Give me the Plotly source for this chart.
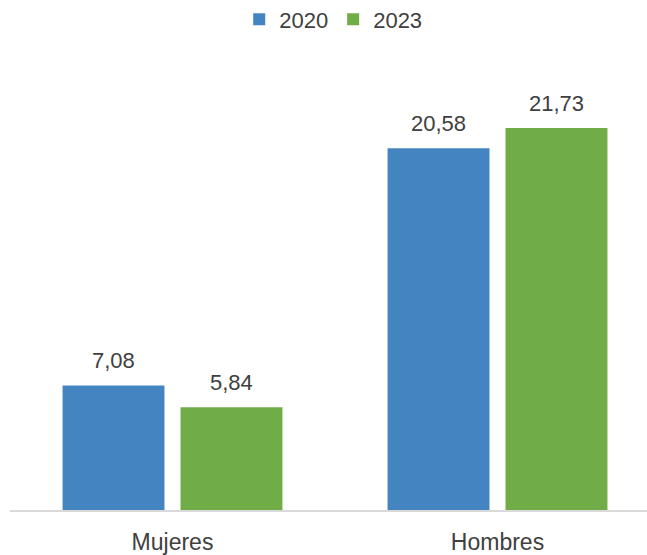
import plotly.graph_objects as go

categories = ["Mujeres", "Hombres"]
series_names = ["2020", "2023"]
values_2020 = [7.08, 20.58]
values_2023 = [5.84, 21.73]
colors = ["#4485C1", "#70AD47"]

FONT = "Liberation Sans, Arial"
TEXT_COLOR = "#404040"
BARGAP = 0.274
GROUPGAP = 0.136

fig = go.Figure()
for name, vals, col in zip(series_names, [values_2020, values_2023], colors):
    fig.add_trace(go.Bar(
        x=categories, y=vals, name=name,
        marker=dict(color=col, line=dict(width=0)),
        cliponaxis=False,
    ))

# value labels above each bar, placed from the same values
x_range = [-0.5, 1.46]
plot_w = 647 - 10
px_per_cat = plot_w / (x_range[1] - x_range[0])
slot = px_per_cat * (1 - BARGAP) / 2
annotations = []
for i, vals in enumerate([values_2020, values_2023]):
    offset = (i - 0.5) * slot
    for cat, v in zip(categories, vals):
        annotations.append(dict(
            x=cat, y=v, xref="x", yref="y",
            text=f"{v:.2f}".replace(".", ","), showarrow=False,
            xshift=offset, yshift=25, yanchor="middle",
            font=dict(family=FONT, size=22, color=TEXT_COLOR),
        ))

fig.update_layout(
    width=647, height=555,
    margin=dict(l=10, r=0, t=60, b=43),
    paper_bgcolor="white", plot_bgcolor="white",
    barmode="group", bargap=BARGAP, bargroupgap=GROUPGAP,
    font=dict(family=FONT, color=TEXT_COLOR),
    legend=dict(orientation="h", xref="container", yref="container",
                x=0.515, y=0.965, xanchor="center", yanchor="middle",
                font=dict(size=22, color=TEXT_COLOR), itemwidth=30,
                traceorder="normal"),
    showlegend=True,
    annotations=annotations,
)
fig.update_xaxes(range=x_range, showline=True, linecolor="#D9D9D9", linewidth=2,
                 tickfont=dict(size=23, color=TEXT_COLOR), ticks="",
                 ticklabelstandoff=10, showgrid=False)
fig.update_yaxes(range=[0, 25.6], visible=False, showgrid=False)

fig.write_html("out.html")
